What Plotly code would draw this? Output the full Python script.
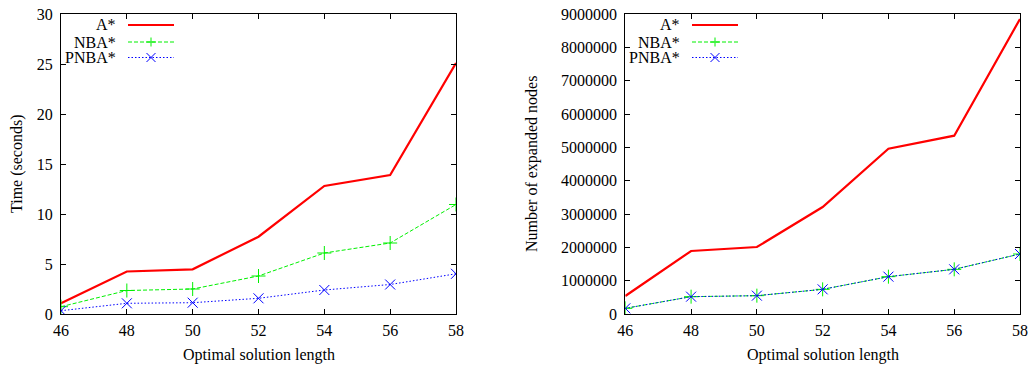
import plotly.graph_objects as go
from plotly.subplots import make_subplots

lengths = [46, 48, 50, 52, 54, 56, 58]
time_astar = [1.07, 4.25, 4.47, 7.73, 12.8, 13.9, 25.1]
time_nba = [0.73, 2.35, 2.5, 3.8, 6.1, 7.1, 10.95]
time_pnba = [0.33, 1.07, 1.13, 1.57, 2.4, 2.95, 4.02]
nodes_astar = [540000, 1890000, 2010000, 3210000, 4960000, 5350000, 8850000]
nodes_nba = [170000, 520000, 550000, 740000, 1120000, 1340000, 1800000]
nodes_pnba = [170000, 520000, 550000, 740000, 1120000, 1340000, 1800000]
series_names = ["A*", "NBA*", "PNBA*"]

W, H = 1031, 367
ML, MR, MT, MB = 61, 11, 14, 53
PW = W - ML - MR
PH = H - MT - MB
FONT = "Liberation Serif, Times New Roman, serif"
FS = 16

RED = "#ff0000"
GREEN = "#00f000"
BLUE = "#0000ff"
DASH = "4px,2px"
DOT = "1.5px,2px"

fig = make_subplots(rows=1, cols=2, horizontal_spacing=0.18)

def add_series(col, ys):
    a, n, p = ys
    fig.add_trace(go.Scatter(x=lengths, y=a, mode="lines", name="A*",
                             line=dict(color=RED, width=2.2), showlegend=False), row=1, col=col)
    fig.add_trace(go.Scatter(x=lengths, y=n, mode="lines+markers", name="NBA*",
                             line=dict(color=GREEN, width=1, dash=DASH),
                             marker=dict(symbol="cross-thin", size=10, line=dict(color=GREEN, width=1)),
                             showlegend=False), row=1, col=col)
    fig.add_trace(go.Scatter(x=lengths, y=p, mode="lines+markers", name="PNBA*",
                             line=dict(color=BLUE, width=1, dash=DOT),
                             marker=dict(symbol="x-thin", size=10, line=dict(color=BLUE, width=1)),
                             showlegend=False), row=1, col=col)

add_series(1, (time_astar, time_nba, time_pnba))
add_series(2, (nodes_astar, nodes_nba, nodes_pnba))

left_dom = [0, (456 - ML) / PW]
right_dom = [(625.3 - ML) / PW, 1]

axis_common = dict(showline=True, linecolor="black", linewidth=1.2, mirror="ticks",
                   ticks="inside", ticklen=5, tickcolor="black", showgrid=False,
                   zeroline=False, automargin=False,
                   tickfont=dict(family=FONT, size=FS, color="black"))

fig.update_xaxes(**axis_common, range=[46, 58], tickmode="array", tickvals=lengths,
                 ticktext=[str(v) for v in lengths], ticklabelstandoff=2)
fig.update_xaxes(domain=left_dom, row=1, col=1)
fig.update_xaxes(domain=right_dom, row=1, col=2)
fig.update_yaxes(**axis_common, ticklabelstandoff=4)
fig.update_yaxes(range=[0, 30], tickvals=[0, 5, 10, 15, 20, 25, 30], row=1, col=1)
fig.update_yaxes(range=[0, 9000000], tickvals=[i * 1000000 for i in range(10)],
                 ticktext=[str(i * 1000000) for i in range(10)], row=1, col=2)

def px(x):
    return (x - ML) / PW

def py(y):
    return (H - MB - y) / PH

# axis titles
title_font = dict(family=FONT, size=FS, color="black")
fig.add_annotation(x=px((61.5 + 456) / 2), y=py(355), xref="paper", yref="paper",
                   text="Optimal solution length", showarrow=False, xanchor="center",
                   yanchor="middle", font=title_font)
fig.add_annotation(x=px((625.3 + 1020) / 2), y=py(355), xref="paper", yref="paper",
                   text="Optimal solution length", showarrow=False, xanchor="center",
                   yanchor="middle", font=title_font)
fig.add_annotation(x=px(17), y=py(164), xref="paper", yref="paper",
                   text="Time (seconds)", showarrow=False, textangle=-90, xanchor="center",
                   yanchor="middle", font=title_font)
fig.add_annotation(x=px(532), y=py(164), xref="paper", yref="paper",
                   text="Number of expanded nodes", showarrow=False, textangle=-90, xanchor="center",
                   yanchor="middle", font=title_font)

styles = [
    dict(color=RED, width=2.2, dash="solid", mark=None),
    dict(color=GREEN, width=1, dash=DASH, mark="+"),
    dict(color=BLUE, width=1, dash=DOT, mark="x"),
]
legend_rows = [25, 42, 57.5]
for text_right, x0, x1 in [(118, 128, 174), (682, 692, 738)]:
    for name, st, yy in zip(series_names, styles, legend_rows):
        fig.add_annotation(x=px(text_right), y=py(yy), xref="paper", yref="paper",
                           text=name, showarrow=False, xanchor="right", yanchor="middle",
                           font=dict(family=FONT, size=FS, color="black"))
        fig.add_shape(type="line", xref="paper", yref="paper", x0=px(x0), x1=px(x1),
                      y0=py(yy), y1=py(yy), line=dict(color=st["color"], width=st["width"], dash=st["dash"]))
        cx = (x0 + x1) / 2
        r = 4.5
        if st["mark"] == "+":
            segs = [((cx - r, yy), (cx + r, yy)), ((cx, yy - r), (cx, yy + r))]
        elif st["mark"] == "x":
            segs = [((cx - r, yy - r), (cx + r, yy + r)), ((cx - r, yy + r), (cx + r, yy - r))]
        else:
            segs = []
        for (ax_, ay_), (bx_, by_) in segs:
            fig.add_shape(type="line", xref="paper", yref="paper", x0=px(ax_), y0=py(ay_),
                          x1=px(bx_), y1=py(by_), line=dict(color=st["color"], width=1))

fig.update_layout(width=W, height=H, margin=dict(l=ML, r=MR, t=MT, b=MB),
                  plot_bgcolor="white", paper_bgcolor="white",
                  font=dict(family=FONT, size=FS, color="black"), showlegend=False)

fig.write_html("out.html", config={"displayModeBar": False},
               post_script="document.body.style.margin='0';document.body.style.overflow='hidden';")
